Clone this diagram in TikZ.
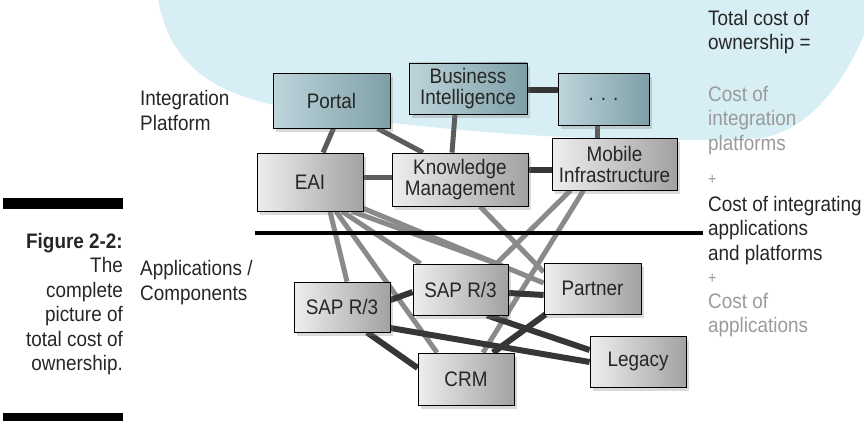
\documentclass[tikz,border=0pt]{standalone}
\usepackage{fontspec}
\setmainfont{Liberation Sans}[FakeStretch=0.9]
\usetikzlibrary{shadows}

\definecolor{skyblue}{HTML}{D6EEF4}
\definecolor{tealL}{HTML}{BDD5DB}
\definecolor{tealR}{HTML}{7E9FA7}
\definecolor{greyL}{HTML}{EEEEEE}
\definecolor{greyR}{HTML}{A2A2A2}
\definecolor{linkdark}{HTML}{363636}
\definecolor{linkmid}{HTML}{5C5C5C}
\definecolor{linklight}{HTML}{8A8A8A}
\definecolor{costgrey}{HTML}{9A9A9A}

\pgfdeclarelayer{cloud}
\pgfdeclarelayer{links}
\pgfsetlayers{cloud,links,main}

\tikzset{
	box/.style={draw=black, line width=0.8pt, align=center, inner sep=0pt,
		font=\fontsize{21}{21}\selectfont, text=black!85,
		drop shadow={opacity=0.3, shadow xshift=3pt, shadow yshift=-4pt}},
	platbox/.style={box, left color=tealL, right color=tealR},
	appbox/.style={box, left color=greyL, right color=greyR},
	sidetext/.style={font=\fontsize{21}{24.5}\selectfont, text=black!85, inner sep=0pt, align=left},
	costtext/.style={sidetext, text=costgrey},
	plustext/.style={costtext, font=\fontsize{16}{16}\selectfont},
	darklink/.style={draw=linkdark, line width=6pt},
	midlink/.style={draw=linkmid, line width=5pt},
	lightlink/.style={draw=linklight, line width=5pt}
}

\begin{document}
\begin{tikzpicture}[x=1pt, y=-1pt]
	\useasboundingbox (0,0) rectangle (864,420);
	
	\begin{pgfonlayer}{cloud}
		\fill[skyblue] (158,-10) -- (158,0) .. controls (170,60) and (205,95) .. (300,110)
			.. controls (450,135) and (650,145) .. (760,138)
			.. controls (820,130) and (855,60) .. (870,20) -- (870,-10) -- cycle;
	\end{pgfonlayer}
	
	\node[platbox, minimum width=117, minimum height=55] (portal) at (331.5,100.5) {Portal};
	\node[platbox, minimum width=118, minimum height=51] (bi) at (468,88.5) {Business\\Intelligence};
	\node[platbox, minimum width=91, minimum height=52] (dots) at (603.5,99) {. . .};
	\node[appbox, minimum width=106, minimum height=58] (eai) at (310,182) {EAI};
	\node[appbox, minimum width=136, minimum height=53] (km) at (460,179.5) {Knowledge\\Management};
	\node[appbox, minimum width=125, minimum height=52] (mobile) at (614.5,164) {Mobile\\Infrastructure};
	
	\node[appbox, minimum width=96, minimum height=50] (sapa) at (342,307) {SAP R/3};
	\node[appbox, minimum width=95, minimum height=51] (sapb) at (460.5,289.5) {SAP R/3};
	\node[appbox, minimum width=97, minimum height=51] (partner) at (592.5,288.5) {Partner};
	\node[appbox, minimum width=96, minimum height=52] (crm) at (466,379) {CRM};
	\node[appbox, minimum width=96, minimum height=51] (legacy) at (638,361.5) {Legacy};
	
	\begin{pgfonlayer}{links}
		\draw[midlink] ([xshift=2pt]portal.south) -- ([xshift=13pt]eai.north);
		\draw[midlink] ([xshift=46pt]portal.south) -- ([xshift=-37pt]km.north);
		\draw[midlink] ([xshift=-13pt]bi.south) -- ([xshift=-8pt]km.north);
		\draw[darklink] ([yshift=-1.5pt]bi.east) -- ([yshift=9pt]dots.west);
		\draw[midlink] ([xshift=-6.5pt]dots.south) -- ([xshift=-17.5pt]mobile.north);
		\draw[midlink] ([yshift=5pt]eai.east) -- ([yshift=2.5pt]km.west);
		\draw[darklink] ([yshift=9.5pt]km.east) -- ([yshift=-6pt]mobile.west);
		
		\draw[lightlink] ([xshift=20pt]eai.south) -- ([xshift=5pt]sapa.north);
		\draw[lightlink] ([xshift=26pt]eai.south) -- ([xshift=-29pt]crm.north);
		\draw[lightlink] ([xshift=32pt]eai.south) -- ([xshift=-40pt]sapb.north);
		\draw[lightlink] ([xshift=42pt]eai.south) -- ([xshift=36pt]sapb.north);
		\draw[lightlink] ([yshift=3pt]eai.south east) -- ([yshift=5.5pt]partner.west);
		\draw[lightlink] ([xshift=20pt]km.south) -- ([yshift=16.5pt]partner.west);
		\draw[lightlink] ([xshift=-44pt]mobile.south) -- ([xshift=36pt]sapb.north);
		\draw[lightlink] ([xshift=-31pt]mobile.south) -- ([xshift=17pt]crm.north);
		
		\draw[darklink] ([yshift=7pt]sapa.east) -- ([yshift=-2.5pt]sapb.west);
		\draw[darklink] ([yshift=-3.5pt]sapb.east) -- ([yshift=-6.5pt]partner.west);
		\draw[darklink] ([yshift=-21pt]sapa.east) -- ([yshift=-0.5pt]legacy.west);
		\draw[darklink] ([xshift=25pt]sapa.south) -- ([yshift=11pt]crm.west);
		\draw[darklink] ([xshift=26.5pt]sapb.south) -- ([yshift=11.5pt]legacy.west);
		\draw[darklink] ([xshift=-47pt]partner.south) -- ([xshift=27pt]crm.north);
	\end{pgfonlayer}
	
	\coordinate (rulel) at (255,233);
	\coordinate (ruler) at (703,233);
	\draw[line width=4pt] (rulel) -- (ruler);
	
	\node[sidetext, anchor=base west] (platlabel) at (140,130) {Integration\\Platform};
	\node[sidetext, anchor=base west] (applabel) at (140,300) {Applications /\\Components};
	
	\fill (3,198) rectangle (123,209);
	\fill (3,413) rectangle (123,426);
	\node[sidetext, align=right, anchor=north east] (caption) at (123,233)
		{\textbf{Figure 2-2:}\\The\\complete\\picture of\\total cost of\\ownership.};
	
	\node[sidetext, anchor=north west] (tco) at (708,10) {Total cost of\\ownership =};
	\node[costtext, anchor=north west] (costplat) at (708,86) {Cost of\\integration\\platforms};
	\node[plustext, anchor=base west] (plusa) at (708,184) {+};
	\node[sidetext, anchor=north west] (costint) at (708,196) {Cost of integrating\\applications\\and platforms};
	\node[plustext, anchor=base west] (plusb) at (708,283) {+};
	\node[costtext, anchor=north west] (costapp) at (708,293) {Cost of\\applications};
\end{tikzpicture}
\end{document}
